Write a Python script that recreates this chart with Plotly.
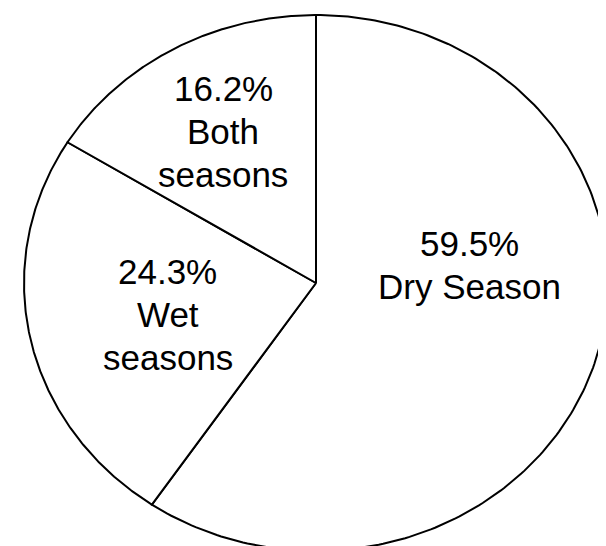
import numpy as np
import plotly.graph_objects as go

# ---- data ----
categories = ["Dry Season", "Wet seasons", "Both seasons"]
values = [59.5, 24.3, 16.2]
pct_labels = ["59.5%", "24.3%", "16.2%"]
label_lines = [["59.5%", "Dry Season"], ["24.3%", "Wet", "seasons"], ["16.2%", "Both", "seasons"]]

# ---- label placement (layout, unit-pie coordinates of each text block's middle) ----
label_pos = [(0.524, 0.067), (-0.507, -0.119), (-0.317, 0.567)]

# page body has an 8px margin; figure sized to fill the rest of the window
W, H = 598, 538
# ellipse geometry in figure pixels: centre (308,275), rx=292, ry=268
cx, cy, rx, ry = 308, 275, 292, 268
FONT = 35
LINE_PX = 43

fig = go.Figure()

total = float(sum(values))
start = 0.0
for v in values:
    a0 = start / total * 2 * np.pi
    a1 = (start + v) / total * 2 * np.pi
    t = np.linspace(a0, a1, 240)
    xs = np.concatenate([[0.0], np.sin(t), [0.0]])
    ys = np.concatenate([[0.0], np.cos(t), [0.0]])
    fig.add_trace(go.Scatter(
        x=xs, y=ys, mode="lines", fill="toself",
        fillcolor="white", line=dict(color="black", width=2),
        hoverinfo="skip", showlegend=False,
    ))
    start += v

for (lx, ly), lines in zip(label_pos, label_lines):
    n = len(lines)
    for k, s in enumerate(lines):
        off = ((n - 1) / 2 - k) * LINE_PX / ry
        fig.add_annotation(
            x=lx, y=ly + off, xref="x", yref="y",
            text=s, showarrow=False,
            xanchor="center", yanchor="middle", align="center",
            font=dict(family="Arial, Liberation Sans, sans-serif", size=FONT, color="black"),
        )

fig.update_xaxes(range=[-cx / rx, (W - cx) / rx], visible=False, fixedrange=True)
fig.update_yaxes(range=[-(H - cy) / ry, cy / ry], visible=False, fixedrange=True)

fig.update_layout(
    width=W, height=H,
    margin=dict(l=0, r=0, t=0, b=0),
    paper_bgcolor="white", plot_bgcolor="white",
    showlegend=False,
)

fig.write_html("out.html")
